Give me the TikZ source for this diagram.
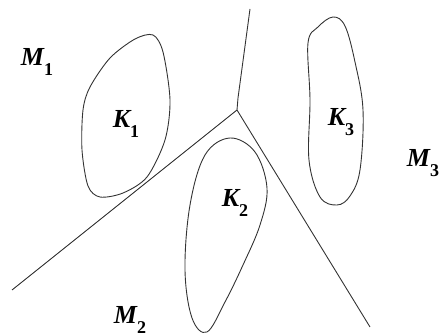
\documentclass[tikz,border=0pt]{standalone}
\usepackage{fontspec}
\setmainfont{Liberation Serif}
\newcommand{\idx}[1]{\raisebox{-10pt}{\upshape\fontsize{18}{18}\selectfont #1}}
\tikzset{
  lbl/.style={font=\fontsize{26}{28}\selectfont\bfseries\itshape, inner sep=0pt},
  bord/.style={line width=0.9pt, black!80},
  compact/.style={bord, smooth cycle, tension=0.6}
}
\begin{document}
\begin{tikzpicture}[x=1pt, y=-1pt]
  \useasboundingbox (0,0) rectangle (445,336);

  % Frontieres
  \coordinate (J) at (237,110);
  \coordinate (haut) at (250,9);
  \coordinate (gauche) at (12,290);
  \coordinate (droite) at (370,327);
  \draw[bord] (haut) -- (238,98) -- (J);
  \draw[bord] (J) -- (gauche);
  \draw[bord] (J) -- (droite);

  % Compacts
  \draw[compact, tension=0.5] plot coordinates {(153,35) (163,52) (170,100) (165,140) (147,177)
    (123,193) (100,197) (88,186) (82,150) (83,110) (90,87) (110,58) (135,39)};
  \draw[compact] plot coordinates {(230,138) (255,152) (267,188) (260,225) (243,265)
    (225,302) (207,332) (192,318) (185,270) (190,205) (205,155)};
  \draw[compact] plot coordinates {(333,17) (345,26) (355,62) (363,110) (360,170)
    (350,196) (337,205) (320,197) (309,160) (310,100) (308,43) (318,27)};

  % Etiquettes
  \node[lbl] (m1) at (37,62) {M\idx{1}};
  \node[lbl] (k1) at (126,124) {K\idx{1}};
  \node[lbl] (k2) at (235,203) {K\idx{2}};
  \node[lbl] (k3) at (341,122) {K\idx{3}};
  \node[lbl] (m2) at (130,320) {M\idx{2}};
  \node[lbl] (m3) at (423,163) {M\idx{3}};

\end{tikzpicture}
\end{document}
